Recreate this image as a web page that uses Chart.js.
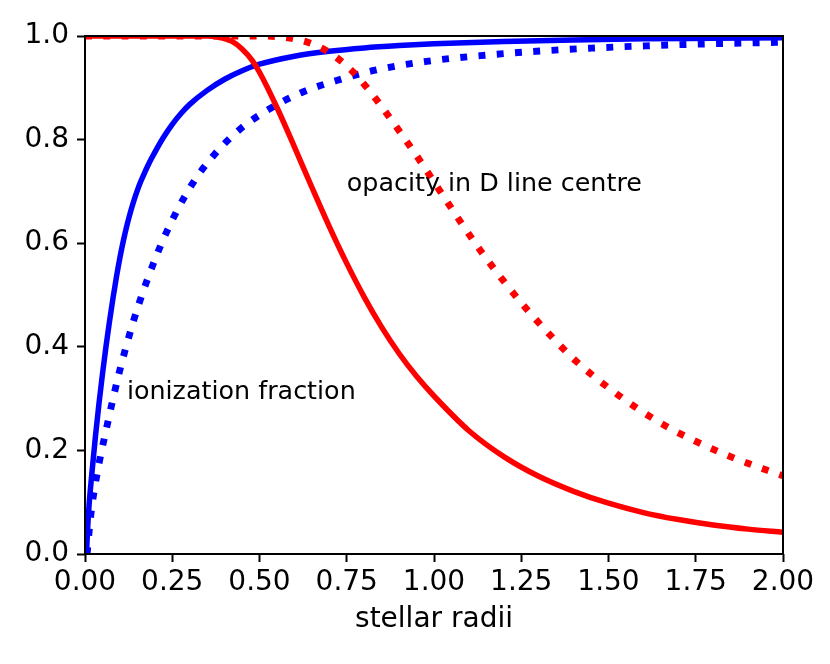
<!DOCTYPE html>
<html>
<head>
<meta charset="utf-8">
<script src="https://cdn.jsdelivr.net/npm/chart.js@4/dist/chart.umd.min.js"></script>
<style>
  body { margin: 0; background: #fff; }
  #wrap { width: 830px; height: 664px; }
</style>
</head>
<body>
<div id="wrap"><canvas id="myChart" width="830" height="664"></canvas></div>
<script>
// ionization fraction, solid blue
const ionX = [0.004, 0.01, 0.02, 0.03, 0.04, 0.05, 0.06, 0.07, 0.08, 0.09, 0.1, 0.11, 0.12, 0.13, 0.14, 0.15, 0.16, 0.17, 0.18, 0.19, 0.2, 0.225, 0.25, 0.275, 0.3, 0.35, 0.4, 0.45, 0.5, 0.6, 0.7, 0.8, 0.9, 1.0, 1.2, 1.4, 1.6, 1.8, 2.0];
const ionY = [0.0, 0.078, 0.158, 0.228, 0.29, 0.347, 0.4, 0.448, 0.493, 0.5345, 0.572, 0.605, 0.634, 0.6595, 0.682, 0.702, 0.7195, 0.735, 0.7495, 0.763, 0.7755, 0.8045, 0.8295, 0.8505, 0.868, 0.895, 0.9165, 0.933, 0.9455, 0.961, 0.9705, 0.977, 0.9815, 0.985, 0.9895, 0.9925, 0.9945, 0.9955, 0.9965];

// ionization fraction, dotted blue
const ionDotX = [0.006, 0.016, 0.0315, 0.064, 0.098, 0.14, 0.175, 0.232, 0.306, 0.368, 0.442, 0.528, 0.621, 0.721, 0.824, 0.979, 1.132, 1.294, 1.449, 1.607, 1.765, 2.0];
const ionDotY = [0.0, 0.072, 0.143, 0.25, 0.35, 0.452, 0.523, 0.619, 0.713, 0.769, 0.819, 0.859, 0.891, 0.914, 0.933, 0.951, 0.962, 0.9705, 0.9765, 0.981, 0.9845, 0.988];

// opacity in D line centre, solid red
const opX = [0, 0.3, 0.35, 0.38, 0.42, 0.45, 0.48, 0.5, 0.55, 0.6, 0.65, 0.7, 0.75, 0.8, 0.85, 0.9, 0.95, 1.0, 1.1, 1.2, 1.3, 1.4, 1.5, 1.6, 1.7, 1.8, 1.9, 2.0];
const opY = [1.0, 1.0, 1.0, 0.998, 0.99, 0.975, 0.952, 0.93, 0.862, 0.786, 0.708, 0.632, 0.561, 0.496, 0.438, 0.387, 0.343, 0.305, 0.238, 0.188, 0.15, 0.121, 0.098, 0.08, 0.0665, 0.056, 0.048, 0.042];

// opacity in D line centre, dotted red
const opDotX = [0, 0.5, 0.587, 0.638, 0.688, 0.729, 0.769, 0.802, 0.834, 0.898, 0.958, 1.015, 1.074, 1.134, 1.197, 1.264, 1.335, 1.409, 1.49, 1.576, 1.664, 1.755, 1.853, 1.953, 2.0];
const opDotY = [1.0, 1.0, 0.996, 0.988, 0.973, 0.954, 0.93, 0.905, 0.878, 0.819, 0.761, 0.703, 0.643, 0.585, 0.529, 0.474, 0.421, 0.371, 0.326, 0.284, 0.247, 0.216, 0.187, 0.162, 0.151];

const xTickLabels = ["0.00", "0.25", "0.50", "0.75", "1.00", "1.25", "1.50", "1.75", "2.00"];
const yTickLabels = ["0.0", "0.2", "0.4", "0.6", "0.8", "1.0"];

const noteText = ["opacity in D line centre", "ionization fraction"];
const noteX = [0.75, 0.12];
const noteY = [0.7, 0.3];

function series(xs, ys, color, dotted) {
  return {
    data: xs.map((x, i) => ({ x: x, y: ys[i] })),
    borderColor: color,
    backgroundColor: color,
    borderWidth: dotted ? 6.9 : 5.5,
    borderDash: dotted ? [6.9, 11.4] : [],
    borderCapStyle: "butt",
    cubicInterpolationMode: "monotone",
    pointRadius: 0,
    fill: false,
    clip: 0,
  };
}

// spines on all four sides plus the two text labels
const framePlugin = {
  id: "frame",
  afterDatasetsDraw(chart) {
    const { ctx, chartArea: a, scales } = chart;
    ctx.save();
    ctx.font = "25.4px 'DejaVu Sans'";
    ctx.fillStyle = "#000";
    ctx.textAlign = "left";
    ctx.textBaseline = "alphabetic";
    for (let i = 0; i < noteText.length; i++) {
      ctx.fillText(
        noteText[i],
        scales.x.getPixelForValue(noteX[i]),
        scales.y.getPixelForValue(noteY[i]),
      );
    }
    ctx.strokeStyle = "#000";
    ctx.lineWidth = 2;
    ctx.strokeRect(a.left, a.top, a.right - a.left, a.bottom - a.top);
    ctx.restore();
  },
};

Chart.defaults.font.family = "'DejaVu Sans'";
Chart.defaults.color = "#000";

new Chart(document.getElementById("myChart"), {
  type: "line",
  data: {
    datasets: [
      series(opDotX, opDotY, "#ff0000", true),
      series(opX, opY, "#ff0000", false),
      series(ionDotX, ionDotY, "#0000ff", true),
      series(ionX, ionY, "#0000ff", false),
    ],
  },
  options: {
    responsive: false,
    animation: false,
    events: [],
    layout: { padding: { top: 36, right: 47, bottom: 0, left: 0 } },
    plugins: {
      legend: { display: false },
      tooltip: { enabled: false },
    },
    scales: {
      x: {
        type: "linear",
        min: 0,
        max: 2,
        border: { display: false },
        grid: {
          drawOnChartArea: false,
          drawTicks: true,
          tickLength: 8,
          tickWidth: 2,
          tickColor: "#000",
        },
        ticks: {
          stepSize: 0.25,
          padding: 4,
          maxRotation: 0,
          autoSkip: false,
          font: { size: 28 },
          color: "#000",
          callback: (v, i) => xTickLabels[i],
        },
        title: {
          display: true,
          text: "stellar radii",
          font: { size: 28 },
          color: "#000",
          padding: { top: 0, bottom: 27 },
        },
        afterFit(scale) {
          scale.height = 110;
        },
      },
      y: {
        type: "linear",
        min: 0,
        max: 1,
        border: { display: false },
        grid: {
          drawOnChartArea: false,
          drawTicks: true,
          tickLength: 8,
          tickWidth: 2,
          tickColor: "#000",
        },
        ticks: {
          stepSize: 0.2,
          padding: 8,
          autoSkip: false,
          font: { size: 28 },
          color: "#000",
          callback: (v, i) => yTickLabels[i],
        },
        afterFit(scale) {
          scale.width = 85;
        },
      },
    },
  },
  plugins: [framePlugin],
});
</script>
</body>
</html>
